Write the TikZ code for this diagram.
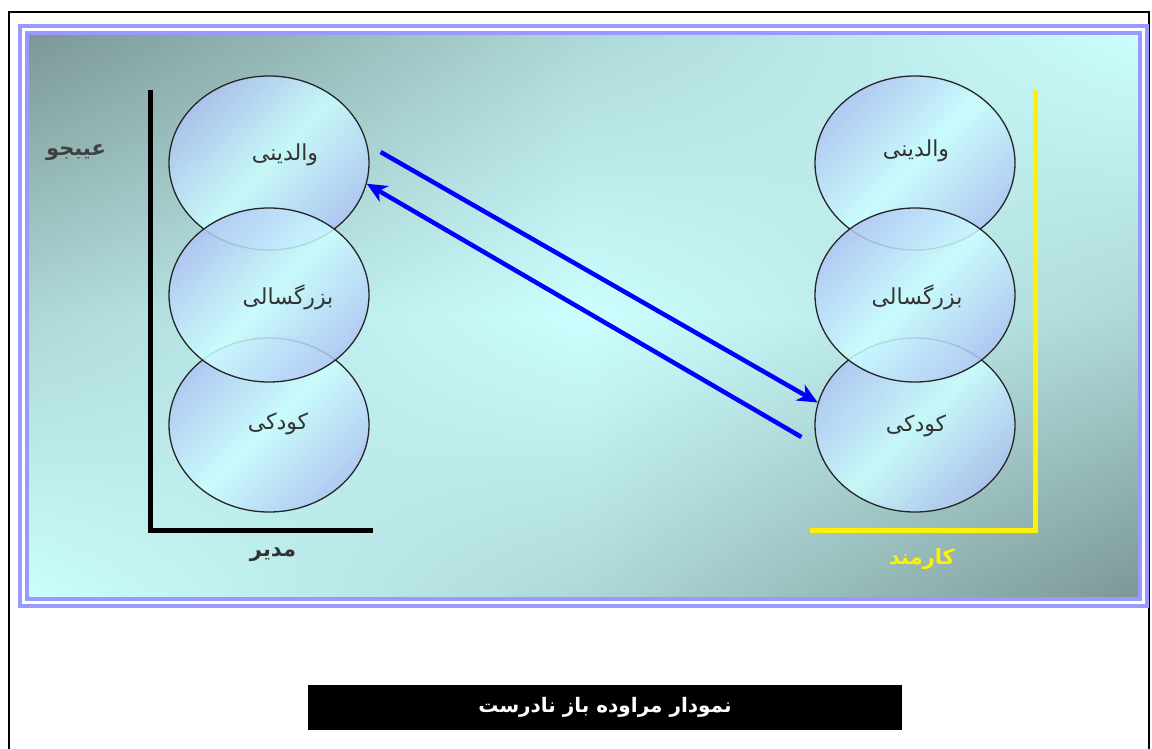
\documentclass[tikz,border=0pt]{standalone}
\usepackage{fontspec}
\usetikzlibrary{arrows.meta,shapes.geometric,shadings}
\newfontfamily\arabicfont[Script=Arabic]{DejaVu Sans}
\TeXXeTstate=1
\newcommand{\fa}[1]{\arabicfont\beginR #1\endR}
\definecolor{panelDark}{RGB}{122,150,148}
\definecolor{panelLight}{RGB}{204,255,255}
\colorlet{panelMid}{panelDark!38!panelLight}
\definecolor{frameLav}{RGB}{153,153,255}
\definecolor{bubbleBlue}{RGB}{176,196,244}
\definecolor{bubbleCyan}{RGB}{204,255,255}

\begin{document}
\begin{tikzpicture}[
  x=1pt, y=-1pt,
  % the stacked ego states: shaded, slightly see-through ellipses
  bubble/.style={ellipse, draw=black!85, line width=1.3pt, inner sep=0pt,
                 minimum width=200pt, minimum height=174pt,
                 top color=bubbleBlue, bottom color=bubbleBlue,
                 middle color=bubbleCyan, shading angle=45, fill opacity=0.85},
  word/.style={font=\fontsize{22}{26}\selectfont, text=black!80},
  side/.style={font=\bfseries\fontsize{21}{25}\selectfont},
  axisk/.style={line width=5pt},
  arr/.style={-{Stealth[length=20pt,width=18pt,inset=6pt]}, line width=4.5pt, blue}
]
\useasboundingbox (0,0) rectangle (1152,749);
\draw[line width=1.3pt] (9,760) |- (1149,12) -- (1149,760);

% panel in four quarters: dark top-left and bottom-right, light elsewhere
\shade[upper left=panelDark, upper right=panelMid, lower left=panelMid, lower right=panelLight]
  (23.5,29.5) rectangle (583.25,316);
\shade[upper left=panelMid, upper right=panelLight, lower left=panelLight, lower right=panelMid]
  (583.25,29.5) rectangle (1143,316);
\shade[upper left=panelMid, upper right=panelLight, lower left=panelLight, lower right=panelMid]
  (23.5,316) rectangle (583.25,602.5);
\shade[upper left=panelLight, upper right=panelMid, lower left=panelMid, lower right=panelDark]
  (583.25,316) rectangle (1143,602.5);
\draw[frameLav, line width=4pt, double=white, double distance=3pt]
  (23.5,29.5) rectangle (1143,602.5);

% axes
\draw[axisk] (150,90) |- (373,530);
\draw[axisk, yellow] (1035,90) |- (810,530);

% ellipses, middle one last
\node[bubble] (lp) at (269,163) {};
\node[bubble] (lk) at (269,425) {};
\node[bubble] (la) at (269,295) {};
\node[bubble] (rp) at (915,163) {};
\node[bubble] (rk) at (915,425) {};
\node[bubble] (ra) at (915,295) {};

\node[word] (lpt) at (285,155) {\fa{والدینی}};
\node[word] (lat) at (288,297) {\fa{بزرگسالی}};
\node[word] (lkt) at (278,424) {\fa{کودکی}};
\node[word] (rpt) at (916,151) {\fa{والدینی}};
\node[word] (rat) at (917,297) {\fa{بزرگسالی}};
\node[word] (rkt) at (916,426) {\fa{کودکی}};

\node[side, text=black!75] (critic) at (76,153) {\fa{عیبجو}};
\node[side, text=black!80] (boss) at (273,555) {\fa{مدیر}};
\node[side, text=yellow] (staff) at (922,559) {\fa{کارمند}};

% transactions
\draw[arr] ([xshift=11pt,yshift=11pt]lp.east) -- (rk.167);
\draw[arr] ([xshift=-13pt,yshift=-12pt]rk.west) -- (lp.-12);

\node[fill=black, text=white, minimum width=594pt, minimum height=45pt,
      side, font=\bfseries\fontsize{20}{24}\selectfont] (caption) at (605,707.5) {\fa{نمودار مراوده باز نادرست}};
\end{tikzpicture}
\end{document}
